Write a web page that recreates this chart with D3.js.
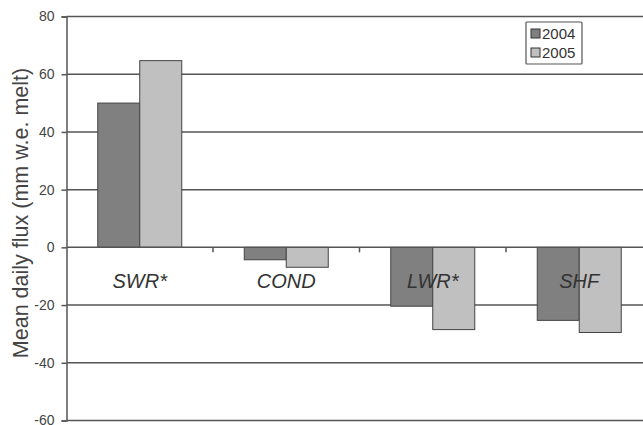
<!DOCTYPE html>
<html>
<head>
<meta charset="utf-8">
<script src="https://cdn.jsdelivr.net/npm/d3@7"></script>
<style>
  body { margin: 0; background: #fff; }
  svg { display: block; font-family: "Liberation Sans", Arial, sans-serif; }
</style>
</head>
<body>
<svg id="chart" width="643" height="425"></svg>
<script>
// ---- data ----
var categories = ["SWR*", "COND", "LWR*", "SHF"];
var years = ["2004", "2005"];
var values2004 = [50, -4.3, -20.4, -25.3];
var values2005 = [64.7, -6.9, -28.5, -29.5];
var yTicks = [-60, -40, -20, 0, 20, 40, 60, 80];

var couleurs = { "2004": "#808080", "2005": "#c0c0c0" };

// ---- layout ----
var svg = d3.select("#chart");
var gauche = 66.5, haut = 16.5, bas = 420.5, droite = 652.5;

var x = d3.scaleBand().domain(categories).range([gauche, droite]).paddingInner(0).paddingOuter(0);
var xIn = d3.scaleBand().domain(years).range([0, 84]);
var y = d3.scaleLinear().domain([-60, 80]).range([bas, haut]);

// gridlines
svg.append("g")
    .selectAll("line")
    .data(yTicks.filter(function(t) { return t !== 0; }))
    .enter().append("line")
    .attr("x1", gauche).attr("x2", droite)
    .attr("y1", function(d) { return y(d); })
    .attr("y2", function(d) { return y(d); })
    .attr("stroke", "#555")
    .attr("stroke-width", 1.5);

// bars
var rows = categories.map(function(c, i) {
    return { cat: c, vals: [ { year: "2004", v: values2004[i] }, { year: "2005", v: values2005[i] } ] };
});

var groupes = svg.append("g").selectAll("g")
    .data(rows)
    .enter().append("g")
    .attr("transform", function(d) { return "translate(" + (x(d.cat) + (x.bandwidth() - 84) / 2) + ",0)"; });

groupes.selectAll("rect")
    .data(function(d) { return d.vals; })
    .enter().append("rect")
    .attr("x", function(d) { return xIn(d.year); })
    .attr("width", xIn.bandwidth())
    .attr("y", function(d) { return y(Math.max(0, d.v)); })
    .attr("height", function(d) { return Math.abs(y(d.v) - y(0)); })
    .attr("fill", function(d) { return couleurs[d.year]; })
    .attr("stroke", "#444")
    .attr("stroke-width", 1);

// y axis
var yAxis = svg.append("g")
    .attr("transform", "translate(" + gauche + ",0)")
    .call(d3.axisLeft(y).tickValues(yTicks).tickSize(5).tickPadding(7)
        .tickFormat(function(d) { return String(d); }));
yAxis.select(".domain").attr("stroke", "#555").attr("stroke-width", 1.5);
yAxis.selectAll(".tick line").attr("stroke", "#555").attr("stroke-width", 1.5);
yAxis.selectAll(".tick text")
    .attr("fill", "#444")
    .style("font-size", "14px")
    .style("font-family", "'Liberation Sans', Arial, sans-serif");

// zero line (x axis) with category ticks
var xAxis = svg.append("g")
    .attr("transform", "translate(0," + y(0) + ")");
xAxis.append("line")
    .attr("x1", gauche).attr("x2", droite)
    .attr("stroke", "#555").attr("stroke-width", 1.5);
xAxis.selectAll("line.sep")
    .data(categories.slice(1))
    .enter().append("line")
    .attr("class", "sep")
    .attr("x1", function(d) { return x(d); })
    .attr("x2", function(d) { return x(d); })
    .attr("y1", 0).attr("y2", 5)
    .attr("stroke", "#555").attr("stroke-width", 1.5);

// category labels
svg.append("g").selectAll("text")
    .data(categories)
    .enter().append("text")
    .attr("x", function(d) { return x(d) + x.bandwidth() / 2; })
    .attr("y", 288)
    .attr("text-anchor", "middle")
    .style("font-size", "20px")
    .style("font-style", "italic")
    .attr("fill", "#333")
    .text(function(d) { return d; });

// y title
svg.append("text")
    .attr("transform", "translate(28," + 213 + ") rotate(-90)")
    .attr("text-anchor", "middle")
    .style("font-size", "21.5px")
    .attr("fill", "#444")
    .text("Mean daily flux (mm w.e. melt)");

// legend
var legende = svg.append("g").attr("transform", "translate(526,22)");
legende.append("rect")
    .attr("width", 56).attr("height", 42)
    .attr("fill", "#fff")
    .attr("stroke", "#555").attr("stroke-width", 1.2)
    .attr("rx", 1);
years.forEach(function(a, i) {
    legende.append("rect")
        .attr("x", 5).attr("y", 7 + i * 19)
        .attr("width", 9).attr("height", 9)
        .attr("fill", couleurs[a])
        .attr("stroke", "#333").attr("stroke-width", 1);
    legende.append("text")
        .attr("x", 16).attr("y", 17 + i * 19)
        .style("font-size", "15px")
        .attr("fill", "#333")
        .text(a);
});
</script>
</body>
</html>
